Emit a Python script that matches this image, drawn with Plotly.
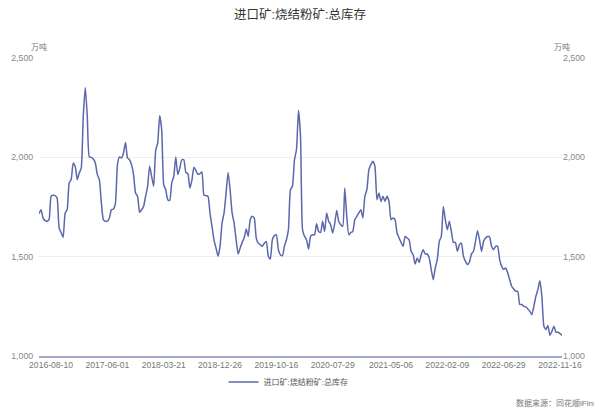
import plotly.graph_objects as go

title_text = "进口矿:烧结粉矿:总库存"
series_name = "进口矿:烧结粉矿:总库存"
unit_text = "万吨"
source_text = "数据来源：同花顺iFinD"

values = [
    1716, 1736, 1695, 1681, 1678, 1686, 1804, 1809, 1807, 1795,
    1644, 1622, 1597, 1720, 1736, 1871, 1888, 1971, 1955, 1888,
    1921, 1946, 2206, 2352, 2206, 2002, 2000, 1992, 1971, 1913,
    1888, 1770, 1686, 1678, 1679, 1695, 1736, 1740, 1770, 1963,
    2002, 1997, 2022, 2075, 1997, 1988, 1963, 1913, 1820, 1804,
    1723, 1736, 1753, 1804, 1854, 1955, 1904, 1854, 2034, 2072,
    2210, 2139, 1862, 1837, 1787, 1783, 1871, 1904, 2002,
    1913, 1946, 1988, 1988, 1924, 1918, 1846, 1884, 1950, 1934,
    1913, 1918, 1926, 1809, 1807, 1804, 1720, 1653, 1585, 1543,
    1502, 1552, 1669, 1720, 1820, 1924, 1837, 1720, 1669, 1585,
    1513, 1543, 1572, 1594, 1639, 1602, 1686, 1703, 1695, 1594,
    1568, 1560, 1552, 1568, 1577, 1502, 1488, 1585, 1606, 1610,
    1535, 1510, 1505, 1552, 1585, 1636, 1837, 1854, 1988, 2039,
    2237, 2106, 1636,
    1602, 1585, 1538, 1602, 1610, 1610, 1666, 1627, 1622, 1678,
    1627, 1720, 1678, 1661, 1619, 1666, 1733, 1678, 1661, 1653,
    1846, 1703, 1610, 1622, 1627, 1686, 1703, 1720, 1736, 1695,
    1804, 1837, 1938, 1963, 1980, 1955, 1787, 1820, 1778, 1804,
    1778, 1804, 1778, 1686, 1695, 1686, 1619, 1594, 1572, 1552,
    1602, 1594, 1585, 1527, 1510, 1463, 1493, 1471, 1510, 1535,
    1514, 1514,
    1493, 1435, 1384, 1443, 1485, 1577, 1602, 1753, 1686, 1636,
    1678, 1627, 1572, 1572, 1527, 1560, 1568, 1502, 1476, 1460,
    1473, 1514, 1527, 1577, 1631, 1585, 1527, 1577, 1594, 1602,
    1599, 1552, 1535, 1552, 1552, 1485, 1451, 1435, 1443, 1418,
    1384, 1351, 1337, 1326, 1326, 1259, 1259, 1250, 1247, 1237,
    1225, 1208, 1250, 1300, 1334, 1379, 1300, 1150, 1133, 1154,
    1104, 1125, 1150, 1120, 1120, 1113, 1104,
]
x_index = list(range(len(values)))

tick_index = [6, 34, 62, 90, 118, 146, 175, 203, 231, 259]
tick_labels = ["2016-08-10", "2017-06-01", "2018-03-21", "2018-12-26", "2019-10-16",
               "2020-07-29", "2021-05-06", "2022-02-09", "2022-06-29", "2022-11-16"]
y_ticks = [1000, 1500, 2000, 2500]

FONT = "Liberation Sans, Noto Sans CJK SC, sans-serif"
LINE_COLOR = "#5b68ab"

fig = go.Figure()
fig.add_trace(go.Scatter(
    x=x_index, y=values, mode="lines", name=series_name,
    line=dict(color=LINE_COLOR, width=1.5, shape="spline", smoothing=0.5),
))
fig.add_trace(go.Scatter(
    x=x_index, y=values, mode="lines", yaxis="y2", showlegend=False,
    line=dict(color="rgba(0,0,0,0)", width=0), hoverinfo="skip",
))

fig.update_layout(
    width=594, height=415,
    margin=dict(l=39, r=32, t=58, b=59, autoexpand=False),
    paper_bgcolor="white", plot_bgcolor="white",
    font=dict(family=FONT, size=9, color="#666"),
    title=dict(text=title_text, x=300 / 594, xanchor="center", y=1 - 15 / 415, yanchor="middle",
               font=dict(size=12.5, color="#333", family=FONT)),
    xaxis=dict(
        range=[0, len(values) - 1], tickmode="array", tickvals=tick_index, ticktext=tick_labels,
        showgrid=False, zeroline=False, showline=True, linecolor="#a3a7c9", linewidth=2,
        ticks="", tickfont=dict(size=8.6, color="#777"), automargin=False,
    ),
    yaxis=dict(
        range=[1000, 2500], tickmode="array", tickvals=y_ticks, tickformat=",",
        showgrid=True, gridcolor="#efeff3", gridwidth=1, zeroline=False, showline=False,
        ticks="outside", ticklen=3, tickcolor="rgba(0,0,0,0)",
        tickfont=dict(size=8.8, color="#888"), automargin=False,
    ),
    yaxis2=dict(
        range=[1000, 2500], tickmode="array", tickvals=y_ticks, tickformat=",",
        overlaying="y", side="right", showgrid=False, zeroline=False, showline=False,
        ticks="", tickfont=dict(size=8.8, color="#888"), automargin=False,
    ),
    showlegend=True,
    legend=dict(orientation="h", x=0.5 - 12 / 523, xanchor="center", yref="container",
                y=1 - 382 / 415, yanchor="middle",
                font=dict(size=8, color="#555"), itemwidth=30),
    annotations=[
        dict(text=unit_text, xref="paper", yref="paper", x=0, y=1, xanchor="center",
             yanchor="bottom", yshift=4, showarrow=False, font=dict(size=8, color="#777")),
        dict(text=unit_text, xref="paper", yref="paper", x=1, y=1, xanchor="center",
             yanchor="bottom", yshift=4, showarrow=False, font=dict(size=8, color="#777")),
        dict(text=source_text, xref="paper", yref="paper", x=(514 - 39) / 523, y=-47 / 298,
             xanchor="left", yanchor="middle", showarrow=False, font=dict(size=8, color="#777")),
    ],
)

fig.write_html("out.html", config={"displayModeBar": False},
               post_script="document.body.style.margin='0px';")
